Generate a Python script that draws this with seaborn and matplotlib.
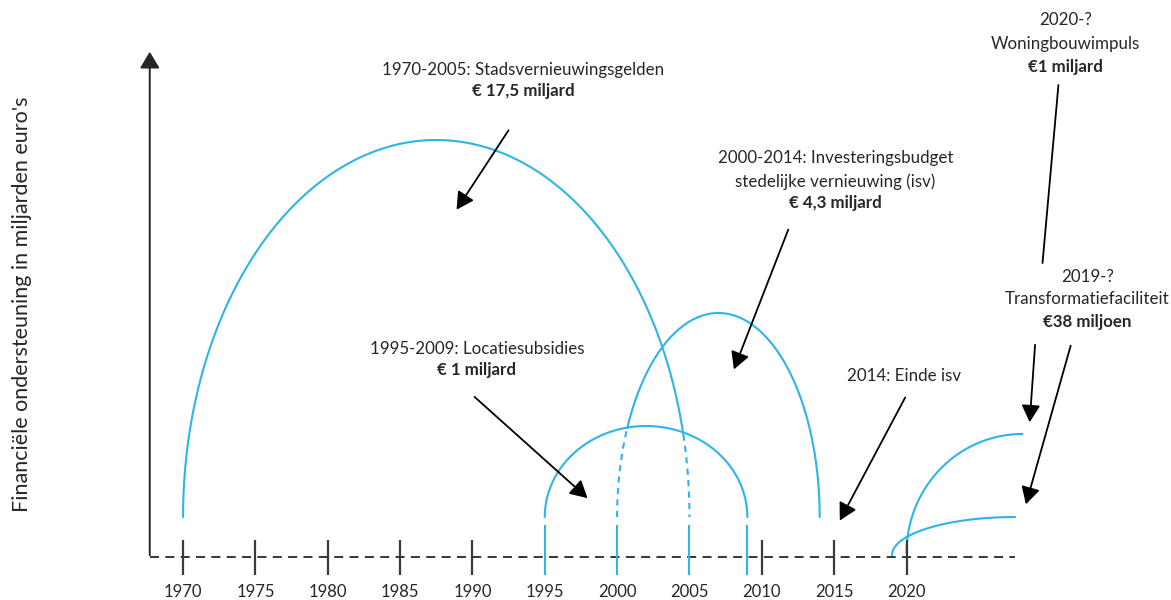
import numpy as np
import pandas as pd
import matplotlib.pyplot as plt
import seaborn as sns

# ========== 1. Data ==========
arc_names = ["Stadsvernieuwingsgelden", "Locatiesubsidies", "Investeringsbudget isv"]
arc_start = [1970, 1995, 2000]
arc_end = [2005, 2009, 2014]
arc_peak = [4.17, 1.31, 2.44]     # height of the top of each arc
arc_base = 0.40                   # arcs stop just above the time line

open_names = ["Woningbouwimpuls", "Transformatiefaciliteit"]
open_start = [2020, 2019]
open_end = [2028, 2027.5]
open_top = [1.23, 0.40]
open_base = [0.04, 0.02]

tick_years = list(range(1970, 2021, 5))
blue_marks = [1995, 2000, 2005, 2009]

BLUE = "#2db4e8"
DARK = "#262626"

sns.set_theme(style="white")
plt.rcParams['font.family'] = ['Lato', 'DejaVu Sans']


# ========== 2. Build arc points ==========
def half_arc(x0, x1, top, n=300):
    t = np.linspace(np.pi, 0, n)
    cx, a = (x0 + x1) / 2, (x1 - x0) / 2
    return cx + a * np.cos(t), arc_base + (top - arc_base) * np.sin(t)


def arc_height(i, x):
    cx, a = (arc_start[i] + arc_end[i]) / 2, (arc_end[i] - arc_start[i]) / 2
    r = np.clip(1 - ((x - cx) / a) ** 2, 0, None)
    return arc_base + (arc_peak[i] - arc_base) * np.sqrt(r)


rows = []
seg = 0
for i, name in enumerate(arc_names):
    x, y = half_arc(arc_start[i], arc_end[i], arc_peak[i])
    if i == 1:
        inside = np.zeros_like(x, dtype=bool)
    else:
        # parts hidden "inside" the Locatiesubsidies arc are dashed
        inside = (x > arc_start[1]) & (x < arc_end[1]) & (y < arc_height(1, x) - 0.01)
    start = 0
    for k in range(1, len(x) + 1):
        if k == len(x) or inside[k] != inside[start]:
            stop = min(k + 1, len(x))
            for xx, yy in zip(x[start:stop], y[start:stop]):
                rows.append({"x": xx, "y": yy, "seg": seg,
                             "stijl": "dashed" if inside[start] else "solid"})
            seg += 1
            start = k

t = np.linspace(0, np.pi / 2, 200)
for i, name in enumerate(open_names):
    x = open_end[i] - (open_end[i] - open_start[i]) * np.cos(t)
    y = open_base[i] + (open_top[i] - open_base[i]) * np.sin(t)
    for xx, yy in zip(x, y):
        rows.append({"x": xx, "y": yy, "seg": seg, "stijl": "solid"})
    seg += 1

arcs = pd.DataFrame(rows)

# ========== 3. Figure ==========
fig = plt.figure(figsize=(11.71, 6.0), dpi=100)
ax = fig.add_axes([0, 0, 1, 1])
ax.set_xlim(1957.35, 2038.28)
ax.set_ylim(-0.43, 5.57)
ax.axis('off')

sns.lineplot(data=arcs, x="x", y="y", units="seg", style="stijl", estimator=None,
             sort=False, color=BLUE, linewidth=1.5, legend=False,
             dashes={"solid": "", "dashed": (3, 2.5)}, ax=ax)

# time line + axis arrow
ax.plot([1967.7, 2027.5], [0, 0], color=DARK, lw=1.3, dashes=(5, 3.5))
ax.annotate('', xy=(1967.7, 5.08), xytext=(1967.7, -0.01),
            arrowprops=dict(arrowstyle='-|>,head_length=0.5,head_width=0.3',
                            color=DARK, lw=1.4, mutation_scale=20))

black_ticks = [y for y in tick_years if y not in blue_marks]
ax.vlines(black_ticks, -0.18, 0.17, color="#3a3a3a", lw=1.6)
ax.vlines(blue_marks, -0.18, 0.32, color=BLUE, lw=1.5)
for yr in tick_years:
    ax.text(yr, -0.35, str(yr), ha='center', va='center', fontsize=12, color=DARK)

ax.text(1958.9, 2.53, "Financiële ondersteuning in miljarden euro's", rotation=90,
        ha='center', va='center', fontsize=15.5, color=DARK)

# ========== 4. Labels ==========
def label(x, ys, lines):
    for yy, (txt, bold) in zip(ys, lines):
        ax.text(x, yy, txt, ha='center', va='center', fontsize=12.2, color=DARK,
                fontweight='bold' if bold else 'normal')


label(1993.5, [4.87, 4.66], [("1970-2005: Stadsvernieuwingsgelden", False), ("€ 17,5 miljard", True)])
label(2015.1, [3.99, 3.75, 3.54], [("2000-2014: Investeringsbudget", False),
                                    ("stedelijke vernieuwing (isv)", False), ("€ 4,3 miljard", True)])
label(1990.3, [2.08, 1.87], [("1995-2009: Locatiesubsidies", False), ("€ 1 miljard", True)])
label(2019.8, [1.81], [("2014: Einde isv", False)])
label(2031.0, [5.37, 5.13, 4.90], [("2020-?", False), ("Woningbouwimpuls", False), ("€1 miljard", True)])
label(2032.5, [2.80, 2.58, 2.35], [("2019-?", False), ("Transformatiefaciliteit", False), ("€38 miljoen", True)])

# ========== 5. Arrows ==========
arrow = dict(arrowstyle='-|>,head_length=0.55,head_width=0.3', color='black',
             lw=1.3, mutation_scale=19)
arrows = [((1992.6, 4.29), (1988.8, 3.45)),
          ((1990.0, 1.62), (1998.1, 0.57)),
          ((2011.9, 3.30), (2008.0, 1.85)),
          ((2020.0, 1.62), (2015.3, 0.34)),
          ((2028.9, 2.15), (2028.5, 1.32)),
          ((2031.4, 2.14), (2028.2, 0.50))]
for start, end in arrows:
    ax.annotate('', xy=end, xytext=start, arrowprops=arrow)
ax.plot([2030.5, 2029.4], [4.72, 2.94], color='black', lw=1.3)

plt.savefig("out.png", dpi=100)
plt.close()
